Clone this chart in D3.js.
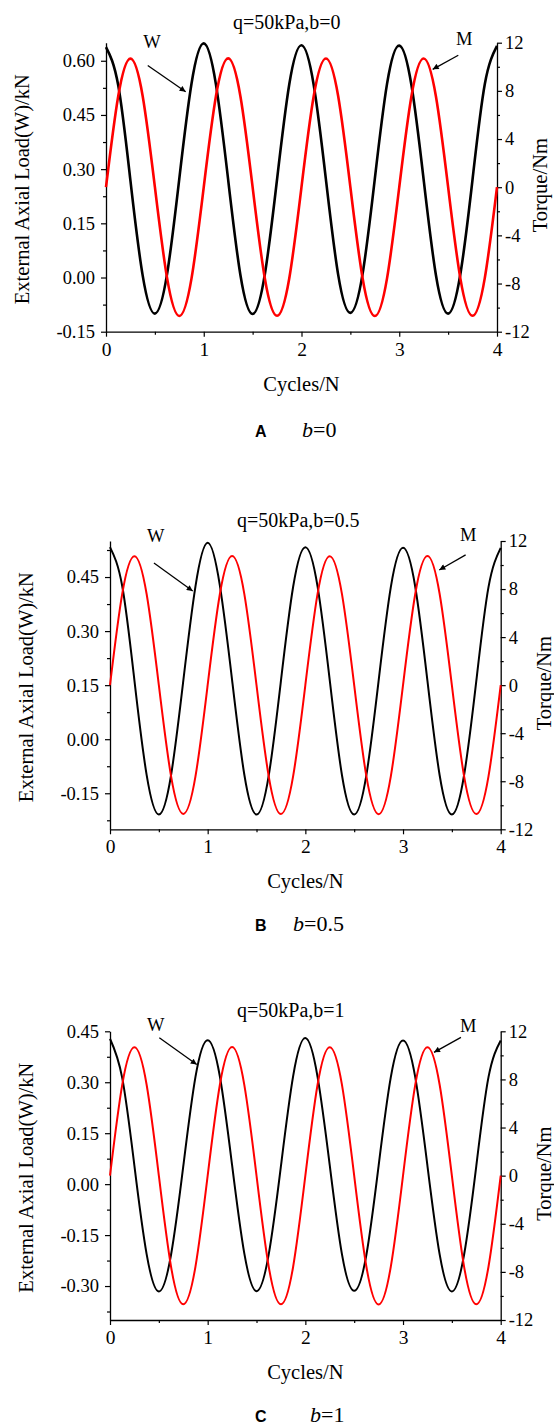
<!DOCTYPE html>
<html>
<head>
<meta charset="utf-8">
<script src="https://cdn.jsdelivr.net/npm/d3@7"></script>
<style>
  body { margin: 0; background: #fff; }
  svg { display: block; }
</style>
</head>
<body>
<script>
// Sampling points along the cycle axis (every 1/8 cycle)
const cycles = [0, 0.125, 0.25, 0.375, 0.5, 0.625, 0.75, 0.875,
                1, 1.125, 1.25, 1.375, 1.5, 1.625, 1.75, 1.875,
                2, 2.125, 2.25, 2.375, 2.5, 2.625, 2.75, 2.875,
                3, 3.125, 3.25, 3.375, 3.5, 3.625, 3.75, 3.875, 4];

// Axial load W (kN) and torque M (Nm), b = 0
const loadA = [0.638, 0.532, 0.268, 0.006, -0.100, 0.010, 0.274, 0.537,
               0.648, 0.534, 0.270, 0.007, -0.101, 0.009, 0.272, 0.535,
               0.643, 0.533, 0.271, 0.008, -0.098, 0.010, 0.273, 0.536,
               0.642, 0.532, 0.270, 0.007, -0.100, 0.009, 0.272, 0.535, 0.641];
const torqueA = [0.00, 7.56, 10.68, 7.58, 0.02, -7.55, -10.69, -7.57,
                 0.01, 7.57, 10.70, 7.56, 0.00, -7.58, -10.68, -7.56,
                 0.02, 7.57, 10.69, 7.57, 0.01, -7.56, -10.70, -7.57,
                 0.00, 7.58, 10.69, 7.56, 0.01, -7.57, -10.68, -7.55, 0.00];

// b = 0.5
const loadB = [0.533, 0.425, 0.163, -0.099, -0.209, -0.100, 0.161, 0.424,
               0.545, 0.426, 0.164, -0.098, -0.209, -0.101, 0.162, 0.423,
               0.533, 0.424, 0.163, -0.100, -0.209, -0.099, 0.162, 0.422,
               0.531, 0.423, 0.162, -0.100, -0.209, -0.100, 0.161, 0.422, 0.531];
const torqueB = [0.00, 7.60, 10.74, 7.59, 0.01, -7.58, -10.72, -7.60,
                 0.02, 7.59, 10.75, 7.60, 0.00, -7.59, -10.73, -7.58,
                 0.01, 7.60, 10.74, 7.58, 0.00, -7.60, -10.74, -7.59,
                 0.01, 7.59, 10.75, 7.59, 0.00, -7.58, -10.73, -7.59, 0.00];

// b = 1
const loadC = [0.428, 0.313, 0.054, -0.206, -0.316, -0.208, 0.052, 0.316,
               0.424, 0.317, 0.056, -0.204, -0.315, -0.207, 0.053, 0.318,
               0.430, 0.316, 0.055, -0.207, -0.314, -0.208, 0.054, 0.315,
               0.423, 0.315, 0.054, -0.207, -0.316, -0.208, 0.053, 0.315, 0.423];
const torqueC = [0.00, 7.55, 10.67, 7.56, 0.01, -7.57, -10.70, -7.56,
                 0.00, 7.56, 10.69, 7.55, 0.01, -7.56, -10.70, -7.57,
                 0.00, 7.56, 10.68, 7.55, 0.00, -7.57, -10.71, -7.56,
                 0.01, 7.55, 10.68, 7.56, 0.00, -7.56, -10.70, -7.57, 0.00];

// Axis ticks
const cycleTicks = [0, 1, 2, 3, 4];
const cycleMinor = [0.5, 1.5, 2.5, 3.5];
const torqueDomain = [-12, 12];
const torqueTicks = [-12, -8, -4, 0, 4, 8, 12];
const torqueMinor = [-10, -6, -2, 2, 6, 10];

const loadDomainA = [-0.15, 0.65];
const loadTicksA = [-0.15, 0, 0.15, 0.30, 0.45, 0.60];
const loadMinorA = [-0.075, 0.075, 0.225, 0.375, 0.525];

const loadDomainB = [-0.25, 0.55];
const loadTicksB = [-0.15, 0, 0.15, 0.30, 0.45];
const loadMinorB = [-0.225, -0.075, 0.075, 0.225, 0.375, 0.525];

const loadDomainC = [-0.40, 0.45];
const loadTicksC = [-0.30, -0.15, 0, 0.15, 0.30, 0.45];
const loadMinorC = [-0.375, -0.225, -0.075, 0.075, 0.225, 0.375];

// Texts
const titles = ["q=50kPa,b=0", "q=50kPa,b=0.5", "q=50kPa,b=1"];
const letters = ["A", "B", "C"];
const bValues = ["0", "0.5", "1"];
const xTitle = "Cycles/N";
const yLeftTitle = "External Axial Load(W)/kN";
const yRightTitle = "Torque/Nm";

// Callout positions: label point and arrow start/end, in data units
// (W in load units, M in torque units)
const wLabel = [[0.471, 0.634], [0.469, 0.548], [0.469, 0.450]];
const wArrow = [[[0.427, 0.587], [0.815, 0.514]],
                [[0.450, 0.489], [0.847, 0.411]],
                [[0.505, 0.431], [0.888, 0.352]]];
const mLabel = [[3.666, 11.8], [3.668, 12.0], [3.668, 11.97]];
const mArrow = [[[3.604, 10.96], [3.342, 9.79]],
                [[3.641, 10.84], [3.371, 9.59]],
                [[3.593, 11.50], [3.317, 10.25]]];

// Panel frames (pixels)
const frames = [
  { left: 106, right: 497, top: 42.7, bottom: 331.7, lw: 2.6, capY: 437, bX: 302 },
  { left: 110, right: 500.7, top: 541, bottom: 829.3, lw: 2.0, capY: 931, bX: 293 },
  { left: 110, right: 500.7, top: 1031.3, bottom: 1320, lw: 2.0, capY: 1422, bX: 310 }
];
const panelData = [
  { load: loadA, torque: torqueA, dom: loadDomainA, ticks: loadTicksA, minor: loadMinorA },
  { load: loadB, torque: torqueB, dom: loadDomainB, ticks: loadTicksB, minor: loadMinorB },
  { load: loadC, torque: torqueC, dom: loadDomainC, ticks: loadTicksC, minor: loadMinorC }
];

const SERIF = "'Liberation Serif', 'Times New Roman', Times, serif";
const SANS = "'Liberation Sans', Arial, Helvetica, sans-serif";

const svg = d3.select("body").append("svg")
  .attr("width", 554).attr("height", 1427)
  .style("font-family", SERIF);

svg.append("defs").append("marker")
  .attr("id", "arrowhead")
  .attr("viewBox", "0 0 10 10")
  .attr("refX", 10).attr("refY", 5)
  .attr("markerWidth", 8).attr("markerHeight", 6)
  .attr("markerUnits", "userSpaceOnUse")
  .attr("orient", "auto")
  .append("path").attr("d", "M0,0L10,5L0,10z").attr("fill", "#000");

function styleAxis(g, fontSize) {
  g.attr("font-family", SERIF).attr("font-size", fontSize);
  g.select(".domain").attr("stroke", "#000").attr("stroke-width", 1.3);
  g.selectAll(".tick line").attr("stroke", "#000").attr("stroke-width", 1.2);
  g.selectAll(".tick text").attr("fill", "#000")
    .style("font-family", SERIF).style("font-size", fontSize + "px");
}

frames.forEach((f, i) => {
  const d = panelData[i];
  const x = d3.scaleLinear().domain([0, 4]).range([f.left, f.right]);
  const yL = d3.scaleLinear().domain(d.dom).range([f.bottom, f.top]);
  const yR = d3.scaleLinear().domain(torqueDomain).range([f.bottom, f.top]);

  // Minor ticks
  svg.append("g").attr("transform", `translate(0,${f.bottom})`)
    .call(d3.axisBottom(x).tickValues(cycleMinor).tickSize(3).tickSizeOuter(0).tickFormat(""))
    .call(g => { g.select(".domain").remove(); styleAxis(g, 18); });
  svg.append("g").attr("transform", `translate(${f.left},0)`)
    .call(d3.axisLeft(yL).tickValues(d.minor).tickSize(3).tickSizeOuter(0).tickFormat(""))
    .call(g => { g.select(".domain").remove(); styleAxis(g, 16); });
  svg.append("g").attr("transform", `translate(${f.right},0)`)
    .call(d3.axisRight(yR).tickValues(torqueMinor).tickSize(3).tickSizeOuter(0).tickFormat(""))
    .call(g => { g.select(".domain").remove(); styleAxis(g, 16); });

  // Major axes
  svg.append("g").attr("transform", `translate(0,${f.bottom})`)
    .call(d3.axisBottom(x).tickValues(cycleTicks).tickSize(5).tickSizeOuter(0)
      .tickPadding(5).tickFormat(v => String(v)))
    .call(g => styleAxis(g, 19.5));
  svg.append("g").attr("transform", `translate(${f.left},0)`)
    .call(d3.axisLeft(yL).tickValues(d.ticks).tickSize(5).tickSizeOuter(0)
      .tickPadding(6).tickFormat(v => v.toFixed(2)))
    .call(g => styleAxis(g, 18.5));
  svg.append("g").attr("transform", `translate(${f.right},0)`)
    .call(d3.axisRight(yR).tickValues(torqueTicks).tickSize(5).tickSizeOuter(0)
      .tickPadding(3).tickFormat(v => String(v)))
    .call(g => styleAxis(g, 18.5));

  // Curves
  const pts = (arr) => cycles.map((c, k) => [c, arr[k]]);
  const lineL = d3.line().x(p => x(p[0])).y(p => yL(p[1])).curve(d3.curveNatural);
  const lineR = d3.line().x(p => x(p[0])).y(p => yR(p[1])).curve(d3.curveNatural);
  svg.append("path").attr("d", lineL(pts(d.load)))
    .attr("fill", "none").attr("stroke", "#000").attr("stroke-width", f.lw)
    .attr("stroke-linejoin", "round");
  svg.append("path").attr("d", lineR(pts(d.torque)))
    .attr("fill", "none").attr("stroke", "#ff0000").attr("stroke-width", f.lw)
    .attr("stroke-linejoin", "round");

  // Title
  svg.append("text").attr("x", f.left + 127).attr("y", f.top - 14)
    .style("font-size", "20px").text(titles[i]);

  // Axis titles
  svg.append("text").attr("x", (f.left + f.right) / 2).attr("y", f.bottom + 59)
    .attr("text-anchor", "middle").style("font-size", "20.5px").text(xTitle);
  svg.append("text")
    .attr("transform", `translate(${f.left - 77},${(f.top + f.bottom) / 2 + 2}) rotate(-90)`)
    .attr("text-anchor", "middle").style("font-size", "20.5px").text(yLeftTitle);
  svg.append("text")
    .attr("transform", `translate(${f.right + 50},${(f.top + f.bottom) / 2 - 2}) rotate(-90)`)
    .attr("text-anchor", "middle").style("font-size", "20.5px").text(yRightTitle);

  // Callouts
  svg.append("text").attr("x", x(wLabel[i][0])).attr("y", yL(wLabel[i][1]))
    .attr("text-anchor", "middle").style("font-size", "18.5px").text("W");
  svg.append("line")
    .attr("x1", x(wArrow[i][0][0])).attr("y1", yL(wArrow[i][0][1]))
    .attr("x2", x(wArrow[i][1][0])).attr("y2", yL(wArrow[i][1][1]))
    .attr("stroke", "#000").attr("stroke-width", 1.3).attr("marker-end", "url(#arrowhead)");
  svg.append("text").attr("x", x(mLabel[i][0])).attr("y", yR(mLabel[i][1]))
    .attr("text-anchor", "middle").style("font-size", "18.5px").text("M");
  svg.append("line")
    .attr("x1", x(mArrow[i][0][0])).attr("y1", yR(mArrow[i][0][1]))
    .attr("x2", x(mArrow[i][1][0])).attr("y2", yR(mArrow[i][1][1]))
    .attr("stroke", "#000").attr("stroke-width", 1.3).attr("marker-end", "url(#arrowhead)");

  // Caption
  svg.append("text").attr("x", 255).attr("y", f.capY)
    .style("font-family", SANS).style("font-weight", "bold").style("font-size", "16px")
    .text(letters[i]);
  const cap = svg.append("text").attr("x", f.bX).attr("y", f.capY)
    .style("font-size", "22px");
  cap.append("tspan").style("font-style", "italic").text("b");
  cap.append("tspan").text("=" + bValues[i]);
});
</script>
</body>
</html>
